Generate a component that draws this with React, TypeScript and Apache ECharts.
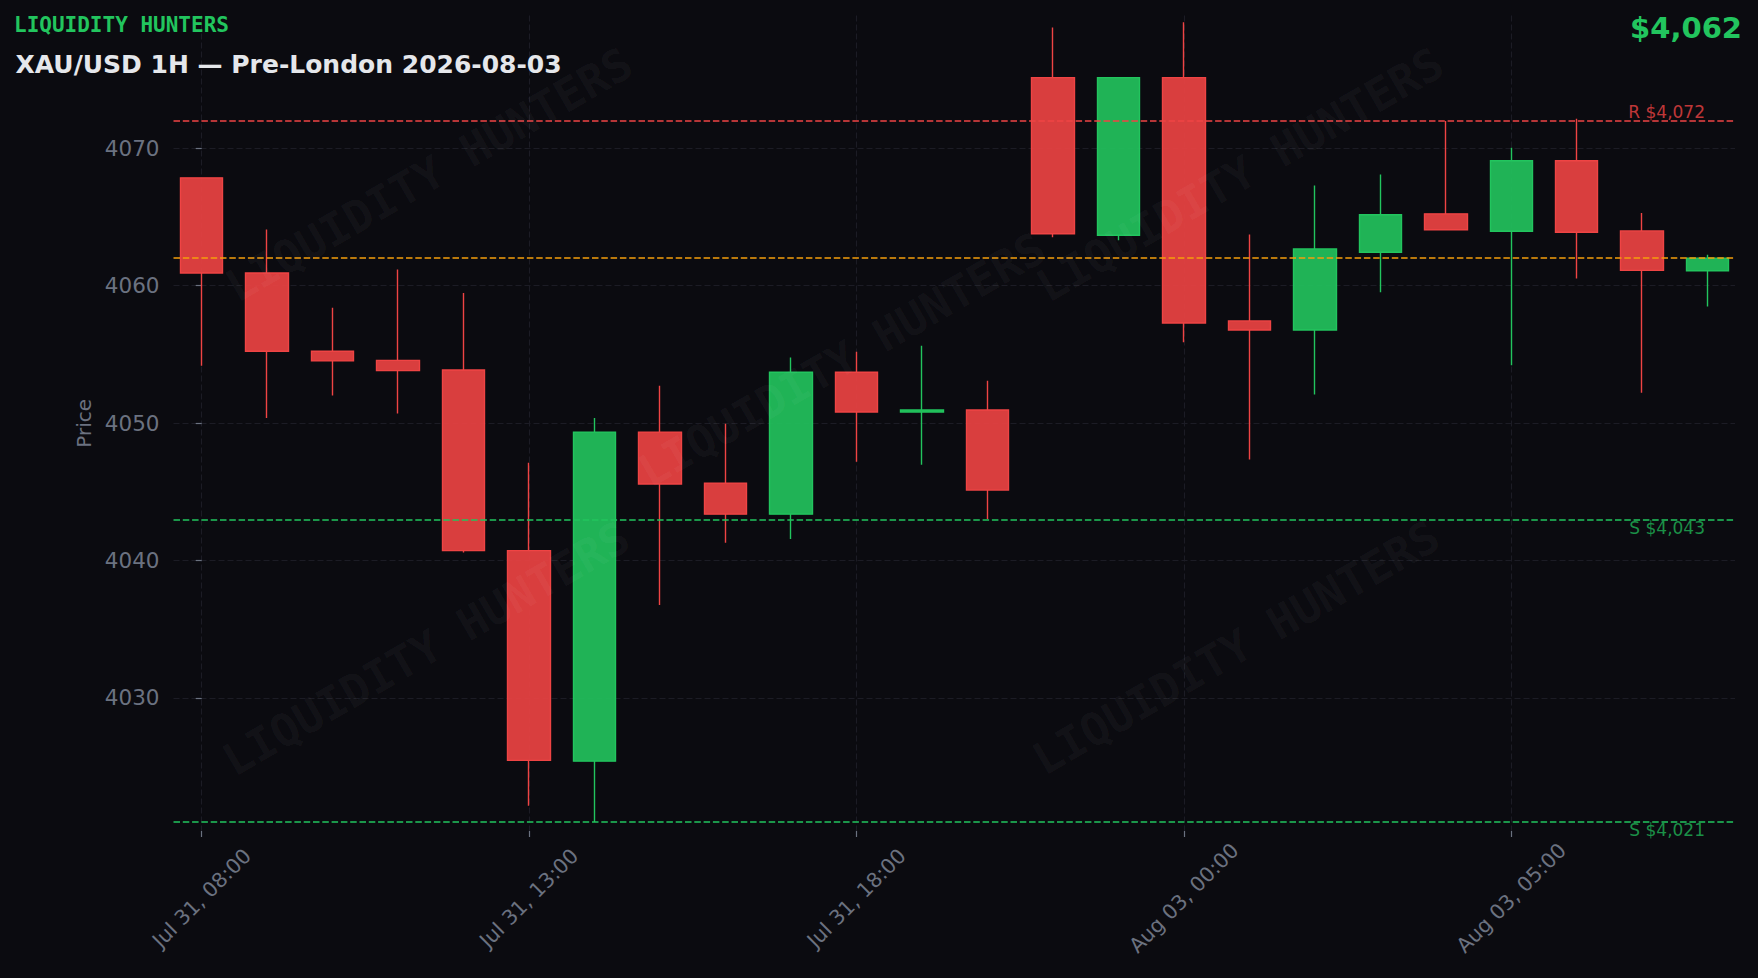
import React, { useEffect, useRef } from "react";
import * as echarts from "echarts";

// ---- data ----
const times = [
  "Jul 31, 08:00", "Jul 31, 09:00", "Jul 31, 10:00", "Jul 31, 11:00", "Jul 31, 12:00",
  "Jul 31, 13:00", "Jul 31, 14:00", "Jul 31, 15:00", "Jul 31, 16:00", "Jul 31, 17:00",
  "Jul 31, 18:00", "Jul 31, 19:00", "Jul 31, 20:00", "Aug 02, 22:00", "Aug 02, 23:00",
  "Aug 03, 00:00", "Aug 03, 01:00", "Aug 03, 02:00", "Aug 03, 03:00", "Aug 03, 04:00",
  "Aug 03, 05:00", "Aug 03, 06:00", "Aug 03, 07:00", "Aug 03, 08:00",
];
const opens = [
  4067.84, 4060.92, 4055.22, 4054.56, 4053.86, 4040.72, 4025.40, 4049.34, 4045.63, 4043.37,
  4053.69, 4050.80, 4050.95, 4075.13, 4063.66, 4075.13, 4057.43, 4056.77, 4062.43, 4065.22,
  4063.95, 4069.08, 4063.98, 4061.08,
];
const closes = [
  4060.92, 4055.22, 4054.52, 4053.81, 4040.72, 4025.46, 4049.34, 4045.56, 4043.37, 4053.69,
  4050.80, 4050.95, 4045.12, 4063.77, 4075.13, 4057.28, 4056.77, 4062.67, 4065.15, 4064.06,
  4069.08, 4063.88, 4061.11, 4062.00,
];
const lows = [
  4054.17, 4050.37, 4052.01, 4050.70, 4040.58, 4022.15, 4020.98, 4036.77, 4041.30, 4041.57,
  4047.18, 4046.96, 4043.01, 4063.52, 4063.30, 4055.87, 4047.35, 4052.08, 4059.51, 4064.06,
  4054.20, 4060.51, 4052.20, 4058.47,
];
const highs = [
  4067.84, 4064.08, 4058.38, 4061.17, 4059.47, 4047.11, 4050.36, 4052.72, 4049.95, 4054.76,
  4055.19, 4055.63, 4053.08, 4078.77, 4075.13, 4079.16, 4063.71, 4067.28, 4068.08, 4071.97,
  4070.03, 4072.14, 4065.29, 4062.24,
];
const resistance = 4072;
const pivot = 4062;
const supports = [4043, 4021];
const yTicks = [4030, 4040, 4050, 4060, 4070];
const xTickIdx = [0, 5, 10, 15, 20];
const brand = "LIQUIDITY HUNTERS";
const title = "XAU/USD 1H \u2014 Pre-London 2026-08-03";
const lastPrice = "$4,062";

const fmtLevel = (v: number) => "$" + v.toLocaleString("en-US");

export default function App() {
  const ref = useRef<HTMLDivElement>(null);
  useEffect(() => {
    document.body.style.margin = "0";
    const chart = echarts.init(ref.current!, null, { renderer: "svg" });
    const data = times.map((_, i) => [i, opens[i], closes[i], lows[i], highs[i]]);
    const gridColor = "#1c1c25";
    const muted = "#6b7280";
    const option: any = {
      backgroundColor: "#0b0b10",
      animation: false,
      grid: { left: 173.5, right: 23, top: 15.5, bottom: 147 },
      xAxis: {
        type: "value",
        min: -0.431,
        max: 23.417,
        axisLine: { show: false },
        axisTick: {
          show: true,
          customValues: xTickIdx,
          length: 6,
          lineStyle: { color: muted, width: 1.2 },
        },
        axisLabel: {
          customValues: xTickIdx,
          formatter: (v: number) => times[Math.round(v)] ?? "",
          rotate: 45,
          align: "center",
          verticalAlign: "middle",
          margin: 67,
          color: muted,
          fontSize: 20.5,
          fontFamily: "DejaVu Sans",
        },
        splitLine: {
          show: true,
          lineStyle: { color: gridColor, type: [6, 3], width: 1.1 },
        },
      },
      yAxis: {
        type: "value",
        min: 4020.32,
        max: 4079.65,
        name: "Price",
        nameLocation: "middle",
        nameGap: 68,
        nameRotate: 90,
        nameTextStyle: { color: muted, fontSize: 20, fontFamily: "DejaVu Sans" },
        axisLine: { show: false },
        axisTick: {
          show: true,
          customValues: yTicks,
          length: 6,
          lineStyle: { color: muted, width: 1.2 },
        },
        axisLabel: {
          customValues: yTicks,
          formatter: (v: number) => String(Math.round(v)),
          color: muted,
          fontSize: 21.5,
          fontFamily: "DejaVu Sans",
          margin: 14,
        },
        splitLine: {
          show: true,
          lineStyle: { color: gridColor, type: [6, 3], width: 1.1 },
        },
      },
      series: [
        {
          type: "candlestick",
          data,
          encode: { x: 0, y: [1, 2, 3, 4] },
          barWidth: 43,
          itemStyle: {
            color: "rgba(34,197,94,0.9)",
            color0: "rgba(239,68,68,0.9)",
            borderColor: "#22c55e",
            borderColor0: "#ef4444",
            borderWidth: 1.4,
          },
          markLine: {
            silent: true,
            symbol: ["none", "none"],
            label: { show: false },
            z: 10,
            lineStyle: { type: [6.5, 2.8], width: 1.5 },
            data: [
              { yAxis: resistance, lineStyle: { color: "#ef4444" } },
              { yAxis: pivot, lineStyle: { color: "#f59e0b" } },
              ...supports.map((s) => ({ yAxis: s, lineStyle: { color: "#22c55e" } })),
            ],
          },
        },
      ],
    };
    chart.setOption(option);

    const yR = chart.convertToPixel({ yAxisIndex: 0 }, resistance) as number;
    const ySs = supports.map((s) => chart.convertToPixel({ yAxisIndex: 0 }, s) as number);

    const wmCenters = [
      [429, 175],
      [1240, 175],
      [842, 360],
      [426, 649],
      [1236, 648],
    ];
    const elements: any[] = [
      ...wmCenters.map(([x, y]) => ({
        type: "text",
        x,
        y,
        rotation: Math.PI / 6,
        z: 100,
        silent: true,
        style: {
          text: brand,
          fill: "rgba(255,255,255,0.045)",
          font: 'bold 45px "DejaVu Sans Mono"',
          textAlign: "center",
          textVerticalAlign: "middle",
        },
      })),
      {
        type: "text",
        x: 14,
        y: 25,
        z: 101,
        style: {
          text: brand,
          fill: "#22c55e",
          font: 'bold 21px "DejaVu Sans Mono"',
          textAlign: "left",
          textVerticalAlign: "middle",
        },
      },
      {
        type: "text",
        x: 15.5,
        y: 64.2,
        z: 101,
        style: {
          text: title,
          fill: "#e5e7eb",
          font: 'bold 25px "DejaVu Sans"',
          textAlign: "left",
          textVerticalAlign: "middle",
        },
      },
      {
        type: "text",
        x: 1742,
        y: 28.3,
        z: 101,
        style: {
          text: lastPrice,
          fill: "#22c55e",
          font: 'bold 29px "DejaVu Sans"',
          textAlign: "right",
          textVerticalAlign: "middle",
        },
      },
      {
        type: "text",
        x: 1705,
        y: yR,
        z: 101,
        style: {
          text: "R " + fmtLevel(resistance),
          fill: "rgba(239,68,68,0.8)",
          font: '17px "DejaVu Sans"',
          textAlign: "right",
          textVerticalAlign: "bottom",
        },
      },
      ...supports.map((s, i) => ({
        type: "text",
        x: 1705,
        y: ySs[i],
        z: 101,
        style: {
          text: "S " + fmtLevel(s),
          fill: "rgba(34,197,94,0.72)",
          font: '17px "DejaVu Sans"',
          textAlign: "right",
          textVerticalAlign: "top",
        },
      })),
    ];
    chart.setOption({ graphic: { elements } });
    return () => chart.dispose();
  }, []);
  return (
    <div
      ref={ref}
      style={{ position: "absolute", left: 0, top: 0, width: 1758, height: 978 }}
    />
  );
}
